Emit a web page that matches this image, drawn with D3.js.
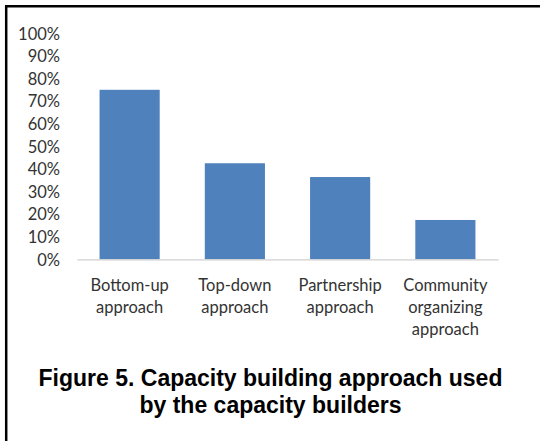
<!DOCTYPE html>
<html>
<head>
<meta charset="utf-8">
<script src="https://cdn.jsdelivr.net/npm/d3@7"></script>
<style>
  html, body { margin: 0; padding: 0; background: #ffffff; }
  svg { display: block; }
</style>
</head>
<body>
<svg id="chart" width="540" height="441"></svg>
<script>
// Share of capacity builders using each approach
const categories = [
  ["Bottom-up", "approach"],
  ["Top-down", "approach"],
  ["Partnership", "approach"],
  ["Community", "organizing", "approach"]
];
const values = [0.75, 0.425, 0.364, 0.174];
const yTicks = [0, 0.1, 0.2, 0.3, 0.4, 0.5, 0.6, 0.7, 0.8, 0.9, 1.0];
const titleLines = [
  "Figure 5. Capacity building approach used",
  "by the capacity builders"
];

const svg = d3.select("#chart");
const W = 540, H = 441;

// Frame: heavy rule along the top and left edges
svg.append("path")
  .attr("d", `M6.2,${H} L6.2,6.2 L${W},6.2`)
  .attr("fill", "none")
  .attr("stroke", "#000")
  .attr("stroke-width", 2.5);

const plot = { left: 77, right: 498, top: 33.3, bottom: 259.3 };

const x = d3.scaleBand()
  .domain(d3.range(categories.length))
  .range([plot.left, plot.right])
  .paddingInner(0)
  .paddingOuter(0);

const y = d3.scaleLinear()
  .domain([0, 1])
  .range([plot.bottom, plot.top]);

const barW = x.bandwidth() / 1.75;
const labelFont = "Lato, 'Open Sans', sans-serif";
const textColor = "#333333";

// Bars
svg.append("g")
  .selectAll("rect")
  .data(values)
  .join("rect")
  .attr("x", (d, i) => x(i) + (x.bandwidth() - barW) / 2)
  .attr("y", d => y(d))
  .attr("width", barW)
  .attr("height", d => y(0) - y(d))
  .attr("fill", "#4F81BD");

// Y axis labels (no axis line, no ticks)
const yAxis = d3.axisLeft(y)
  .tickValues(yTicks)
  .tickFormat(d3.format(".0%"))
  .tickSize(0)
  .tickPadding(0);

const yg = svg.append("g")
  .attr("transform", "translate(60,0)")
  .call(yAxis);
yg.select(".domain").remove();
yg.selectAll("text")
  .attr("font-family", labelFont)
  .attr("font-size", 16.5)
  .attr("fill", textColor)
  .attr("dy", "0.35em");

// X axis baseline
const xAxis = d3.axisBottom(x).tickSize(0).tickFormat("");
const xg = svg.append("g")
  .attr("transform", `translate(0,${plot.bottom})`)
  .call(xAxis);
xg.select(".domain")
  .attr("stroke", "#D0D0D0")
  .attr("stroke-width", 1.2);

// Category labels, several lines each
const lineGap = 22;
const labels = svg.append("g")
  .selectAll("text")
  .data(categories)
  .join("text")
  .attr("x", (d, i) => x(i) + x.bandwidth() / 2)
  .attr("y", 290.5)
  .attr("text-anchor", "middle")
  .attr("font-family", labelFont)
  .attr("font-size", 16.5)
  .attr("fill", textColor);
labels.selectAll("tspan")
  .data(d => d)
  .join("tspan")
  .attr("x", function () { return d3.select(this.parentNode).attr("x"); })
  .attr("dy", (d, i) => i === 0 ? 0 : lineGap)
  .text(d => d);

// Caption
svg.append("g")
  .selectAll("text")
  .data(titleLines)
  .join("text")
  .attr("x", 270.5)
  .attr("y", (d, i) => 386 + i * 27)
  .attr("text-anchor", "middle")
  .attr("font-family", "'Liberation Sans', Arial, sans-serif")
  .attr("font-weight", "bold")
  .attr("font-size", 23)
  .attr("fill", "#000")
  .text(d => d);
</script>
</body>
</html>
